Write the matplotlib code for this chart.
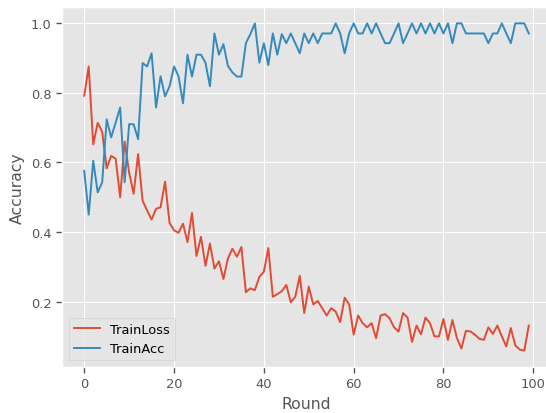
import numpy as np
import matplotlib
matplotlib.use('Agg')
import matplotlib.pyplot as plt

# per-round values
rounds = np.arange(100)

train_loss = [
	0.792, 0.876, 0.652, 0.714, 0.688, 0.583, 0.619, 0.611, 0.500, 0.660,
	0.571, 0.510, 0.624, 0.490, 0.462, 0.436, 0.467, 0.471, 0.545, 0.426,
	0.405, 0.398, 0.424, 0.371, 0.455, 0.331, 0.386, 0.303, 0.367, 0.295,
	0.316, 0.265, 0.324, 0.352, 0.329, 0.357, 0.227, 0.238, 0.233, 0.271,
	0.286, 0.354, 0.214, 0.221, 0.230, 0.248, 0.198, 0.214, 0.274, 0.167,
	0.243, 0.192, 0.202, 0.181, 0.160, 0.181, 0.171, 0.141, 0.211, 0.192,
	0.105, 0.160, 0.138, 0.126, 0.138, 0.095, 0.160, 0.164, 0.152, 0.126,
	0.114, 0.167, 0.154, 0.084, 0.131, 0.106, 0.154, 0.138, 0.100, 0.100,
	0.150, 0.090, 0.147, 0.095, 0.065, 0.116, 0.114, 0.105, 0.093, 0.090,
	0.126, 0.107, 0.131, 0.100, 0.071, 0.124, 0.074, 0.062, 0.059, 0.131,
]

train_acc = [
	0.576, 0.450, 0.605, 0.514, 0.543, 0.724, 0.672, 0.715, 0.758, 0.543,
	0.710, 0.710, 0.667, 0.886, 0.876, 0.914, 0.758, 0.848, 0.790, 0.819,
	0.876, 0.848, 0.770, 0.910, 0.847, 0.910, 0.910, 0.887, 0.819, 0.971,
	0.910, 0.940, 0.878, 0.859, 0.847, 0.847, 0.943, 0.969, 1.000, 0.887,
	0.943, 0.880, 0.971, 0.910, 0.969, 0.943, 0.971, 0.943, 0.914, 0.971,
	0.943, 0.971, 0.943, 0.971, 0.971, 0.971, 1.000, 0.971, 0.914, 0.971,
	1.000, 0.971, 0.971, 1.000, 0.971, 1.000, 0.971, 0.943, 0.943, 0.971,
	1.000, 0.943, 0.971, 1.000, 0.971, 1.000, 0.971, 1.000, 0.971, 1.000,
	0.971, 1.000, 0.943, 1.000, 1.000, 0.971, 0.971, 0.971, 0.971, 0.971,
	0.943, 0.971, 0.971, 1.000, 0.971, 0.943, 1.000, 1.000, 1.000, 0.971,
]

plt.style.use('ggplot')
plt.rcParams['font.size'] = 9.4

fig = plt.figure(figsize=(5.46, 4.14), dpi=100)
ax = fig.add_axes([62 / 546, 46 / 414, 489 / 546, 360 / 414])

ax.plot(rounds, train_loss, label='TrainLoss', linewidth=1.4)
ax.plot(rounds, train_acc, label='TrainAcc', linewidth=1.4)
ax.set_xlabel('Round')
ax.set_ylabel('Accuracy')
ax.set_xticks([0, 20, 40, 60, 80, 100])
ax.set_yticks([0.2, 0.4, 0.6, 0.8, 1.0])
ax.tick_params(direction='out', length=4, width=1, color='#555555')
ax.legend(loc='lower left')

fig.savefig('out.png', dpi=100)
